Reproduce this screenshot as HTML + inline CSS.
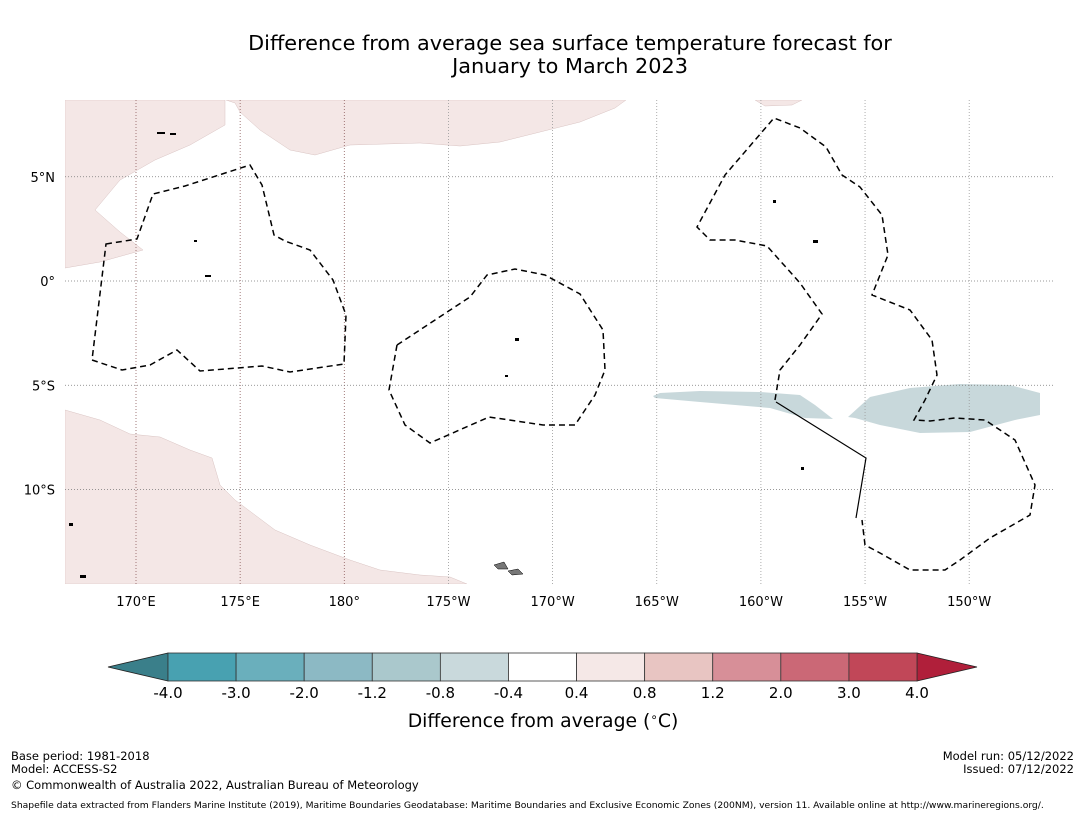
<!DOCTYPE html>
<html><head><meta charset="utf-8"><style>
body{margin:0;background:#fff;}
svg{display:block;font-family:"DejaVu Sans","Liberation Sans",sans-serif;}
</style></head><body>
<svg id="chart" width="1085" height="816" viewBox="0 0 1085 816">
<rect width="1085" height="816" fill="#fff"/>
<text x="570" y="50" font-size="20.8" text-anchor="middle">Difference from average sea surface temperature forecast for</text>
<text x="570" y="73" font-size="20.8" text-anchor="middle">January to March 2023</text>
<g id="map">
<clipPath id="clip"><rect x="65" y="100" width="988" height="484"/></clipPath>
<g clip-path="url(#clip)">
<path fill="#f4e7e6" stroke="#d9c3c2" stroke-width="0.5" d="M65,100 L225,100 L225,125 L190,145 L155,160 L120,180 L95,210 L120,232 L143,250 L100,262 L65,268 Z"/>
<path fill="#f4e7e6" stroke="#d9c3c2" stroke-width="0.5" d="M226,100 L626,100 L615,108 L580,122 L540,132 L500,142 L460,146 L420,143 L350,145 L315,155 L290,150 L260,130 L240,112 L235,103 Z"/>
<path fill="#f4e7e6" stroke="#d9c3c2" stroke-width="0.5" d="M755,100 L802,100 L792,105 L765,106 Z"/>
<path fill="#f4e7e6" stroke="#d9c3c2" stroke-width="0.5" d="M65,410 L100,420 L130,434 L160,437 L190,450 L212,458 L220,485 L235,500 L255,515 L275,530 L310,545 L350,560 L380,570 L420,575 L450,577 L467,584 L65,584 Z"/>
<path fill="#c8d8db" d="M653,396 L660,393 L700,391 L760,392 L800,395 L815,405 L833,419 L805,418 L770,408 L700,402 L655,398 Z"/>
<path fill="#c8d8db" d="M848,417 L870,397 L910,388 L960,384 L1010,385 L1040,393 L1040,415 L1015,420 L970,432 L920,433 L880,425 L855,418 Z"/>
<g id="grid"></g>
<g fill="none" stroke="#000" stroke-width="1.5" stroke-dasharray="6,4">
<path d="M106,244 L137,239 L153,194 L185,186 L250,165 L262,185 L274,235 L285,241 L310,250 L333,280 L346,315 L344,364 L290,372 L262,366 L200,371 L177,350 L150,365 L122,370 L92,360 Z"/>
<path d="M397,345 L470,297 L487,275 L515,269 L545,275 L580,294 L603,330 L605,370 L595,395 L575,425 L543,425 L489,417 L430,443 L405,425 L389,390 Z"/>
<path d="M775,400 L780,370 L800,345 L822,314 L800,283 L767,246 L735,240 L710,240 L697,227 L725,175 L774,118 L800,128 L826,147 L842,175 L860,187 L882,215 L888,255 L872,295 L910,310 L932,340 L937,375 L925,400 L914,420 L930,421 L955,418 L985,420 L1015,440 L1035,485 L1030,515 L990,538 L960,560 L945,570 L910,570 L880,553 L865,545 L862,520"/>
</g>
<path fill="none" stroke="#000" stroke-width="1.2" d="M776,402 L866,458 L856,518"/>
<g fill="#000">
<rect x="157" y="132" width="8" height="2"/><rect x="170" y="133" width="6" height="2"/><rect x="194" y="240" width="3" height="2"/><rect x="205" y="275" width="6" height="2"/><rect x="515" y="338" width="4" height="3"/><rect x="505" y="375" width="3" height="2"/><rect x="773" y="200" width="3" height="3"/><rect x="813" y="240" width="5" height="3"/><rect x="801" y="467" width="3" height="3"/><rect x="69" y="523" width="4" height="3"/><rect x="80" y="575" width="6" height="3"/>
</g>
<path fill="#777" stroke="#000" stroke-width="0.5" d="M494,565 L504,562 L508,569 L498,569 Z M508,571 L518,569 L523,574 L512,575 Z"/>
</g>
</g>
<g id="ticks" font-size="13"></g>
<g id="cbar"></g>
<text x="543" y="727" font-size="18.8" text-anchor="middle">Difference from average (<tspan font-size="12" dy="-6">∘</tspan><tspan dy="6">C)</tspan></text>
<g font-size="11.5">
<text x="11" y="760">Base period: 1981-2018</text>
<text x="11" y="773">Model: ACCESS-S2</text>
<text x="11" y="789">© Commonwealth of Australia 2022, Australian Bureau of Meteorology</text>
<text x="1074" y="760" text-anchor="end">Model run: 05/12/2022</text>
<text x="1074" y="773" text-anchor="end">Issued: 07/12/2022</text>
<text x="11" y="808" font-size="9.2">Shapefile data extracted from Flanders Marine Institute (2019), Maritime Boundaries Geodatabase: Maritime Boundaries and Exclusive Economic Zones (200NM), version 11. Available online at http://www.marineregions.org/.</text>
</g>
</svg>
<script>
const lonTicks=[170,175,180,185,190,195,200,205,210];
const lonLabels=["170°E","175°E","180°","175°W","170°W","165°W","160°W","155°W","150°W"];
const latTicks=[5,0,-5,-10];
const latLabels=["5°N","0°","5°S","10°S"];
const cbarBounds=["-4.0","-3.0","-2.0","-1.2","-0.8","-0.4","0.4","0.8","1.2","2.0","3.0","4.0"];
const cbarColors=["#48a1b1","#6aafbc","#8cb9c4","#aac8cc","#c9d9dc","#ffffff","#f5e8e7","#e8c5c2","#d78f98","#cb6876","#c14758"];
const ns="http://www.w3.org/2000/svg";
function xLon(l){return 136+(l-170)*20.83;}
function yLat(l){return 281-l*20.85;}
const grid=document.getElementById('grid'),ticks=document.getElementById('ticks'),cb=document.getElementById('cbar');
function mk(tag,attrs,parent){const e=document.createElementNS(ns,tag);for(const k in attrs)e.setAttribute(k,attrs[k]);parent.appendChild(e);return e;}
lonTicks.forEach((l,i)=>{
 const x=xLon(l);
 const ln=mk('line',{x1:x,x2:x,y1:100,y2:584,stroke:l<=180?'#8a5a5a':'#999','stroke-width':0.8,'stroke-dasharray':'1,2'},grid);
 
 
 const t=mk('text',{x:x,y:606,'text-anchor':'middle'},ticks);t.textContent=lonLabels[i];
 
 
});
latTicks.forEach((l,i)=>{
 const y=yLat(l);
 const ln=mk('line',{x1:65,x2:1053,y1:y,y2:y,stroke:'#777','stroke-width':0.8,'stroke-dasharray':'1,2'},grid);
 
 
 const t=mk('text',{x:55,y:y+5,'text-anchor':'end'},ticks);t.textContent=latLabels[i];
 
 
});
const x0=168,x1=917,y0=653,h=28,n=cbarColors.length,w=(x1-x0)/n;
const lt=mk('polygon',{points:`${x0},${y0} ${x0},${y0+h} 108,${y0+h/2}`,fill:'#3a7f8a',stroke:'#222','stroke-width':0.8},cb);


const rt=mk('polygon',{points:`${x1},${y0} ${x1},${y0+h} 977,${y0+h/2}`,fill:'#b01f3a',stroke:'#222','stroke-width':0.8},cb);


cbarColors.forEach((c,i)=>{
 const r=mk('rect',{x:x0+i*w,y:y0,width:w,height:h,fill:c,stroke:'#333','stroke-width':0.8},cb);
 
 
});
cbarBounds.forEach((b,i)=>{
 const t=mk('text',{x:x0+i*w,y:698,'text-anchor':'middle','font-size':15},cb);t.textContent=b;
 
 
});
</script>
</body></html>
